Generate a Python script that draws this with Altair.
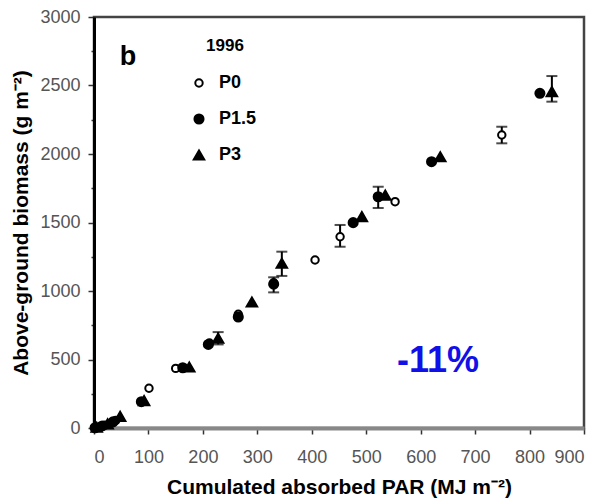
import altair as alt
import pandas as pd

series = ["P0", "P1.5", "P3"]

p0_x = [3, 20, 40, 101, 150, 212, 265, 330, 406, 452, 553, 749]
p0_y = [3, 20, 55, 290, 435, 620, 830, 1060, 1226, 1396, 1652, 2139]
p15_x = [2, 15, 35, 87, 163, 210, 265, 330, 476, 522, 620, 819]
p15_y = [2, 15, 45, 192, 440, 610, 810, 1050, 1499, 1688, 1944, 2443]
p3_x = [5, 25, 48, 92, 175, 228, 290, 345, 492, 535, 636, 841]
p3_y = [5, 30, 85, 200, 445, 655, 920, 1202, 1543, 1700, 1980, 2455]

err_series = ["P0", "P0", "P1.5", "P1.5", "P3", "P3", "P3"]
err_x = [452, 749, 330, 522, 228, 345, 841]
err_lo = [1323, 2078, 990, 1606, 610, 1110, 2382]
err_hi = [1482, 2199, 1100, 1761, 700, 1287, 2569]

x_ticks = [0, 100, 200, 300, 400, 500, 600, 700, 800, 900]
y_ticks = [0, 250, 500, 750, 1000, 1250, 1500, 1750, 2000, 2250, 2500, 2750, 3000]

x_title = "Cumulated absorbed PAR (MJ m⁻²)"
y_title = "Above-ground biomass (g m⁻²)"
panel_label = ["b"]
year_label = ["1996"]
change_label = ["-11%"]

rows = []
for name, xs, ys in [("P0", p0_x, p0_y), ("P1.5", p15_x, p15_y), ("P3", p3_x, p3_y)]:
    for xv, yv in zip(xs, ys):
        rows.append({"series": name, "x": xv, "y": yv})
df = pd.DataFrame(rows)
err_df = pd.DataFrame({"series": err_series, "x": err_x, "lo": err_lo, "hi": err_hi})

FONT = "Liberation Sans"

xscale = alt.Scale(domain=[0, 900], nice=False, zero=False)
yscale = alt.Scale(domain=[0, 3000], nice=False, zero=False)

x_axis = alt.Axis(values=x_ticks, format="d", grid=False)
y_axis = alt.Axis(
    values=y_ticks,
    format="d",
    grid=False,
    labelExpr="datum.value % 500 === 0 ? datum.label : ''",
    tickSize={"condition": {"test": "datum.value % 500 === 0", "value": 6}, "value": 3},
)

legend = alt.Legend(
    title=None,
    orient="none",
    legendX=96,
    legendY=57,
    padding=0,
    rowPadding=18,
    labelOffset=11,
    labelFont=FONT,
    labelFontSize=18,
    labelFontWeight="bold",
    labelColor="black",
    symbolStrokeWidth=2,
)

shape_scale = alt.Scale(domain=series, range=["circle", "circle", "triangle-up"])
fill_scale = alt.Scale(domain=series, range=["white", "black", "black"])
stroke_scale = alt.Scale(domain=series, range=["black", "black", "black"])
size_scale = alt.Scale(domain=series, range=[55, 110, 90])

rules = alt.Chart(err_df).mark_rule(color="black", strokeWidth=2).encode(
    x=alt.X("x:Q", scale=xscale, axis=x_axis, title=x_title),
    y=alt.Y("lo:Q", scale=yscale, axis=y_axis, title=y_title),
    y2="hi:Q",
)
caps_lo = alt.Chart(err_df).mark_tick(color="black", orient="horizontal", size=11, thickness=2).encode(
    x=alt.X("x:Q", scale=xscale, axis=x_axis, title=x_title),
    y=alt.Y("lo:Q", scale=yscale, axis=y_axis, title=y_title),
)
caps_hi = alt.Chart(err_df).mark_tick(color="black", orient="horizontal", size=11, thickness=2).encode(
    x=alt.X("x:Q", scale=xscale, axis=x_axis, title=x_title),
    y=alt.Y("hi:Q", scale=yscale, axis=y_axis, title=y_title),
)

points = alt.Chart(df).mark_point(filled=True, strokeWidth=2, opacity=1).encode(
    x=alt.X("x:Q", scale=xscale, axis=x_axis, title=x_title),
    y=alt.Y("y:Q", scale=yscale, axis=y_axis, title=y_title),
    shape=alt.Shape("series:N", scale=shape_scale, legend=legend),
    fill=alt.Fill("series:N", scale=fill_scale, legend=legend),
    stroke=alt.Stroke("series:N", scale=stroke_scale, legend=legend),
    size=alt.Size("series:N", scale=size_scale, legend=legend),
)

b_text = alt.Chart(pd.DataFrame({"t": panel_label})).mark_text(
    font=FONT, fontSize=27, fontWeight="bold", color="black", align="center", baseline="middle"
).encode(x=alt.value(34), y=alt.value(40), text="t:N")

year_text = alt.Chart(pd.DataFrame({"t": year_label})).mark_text(
    font=FONT, fontSize=17, fontWeight="bold", color="black", align="center", baseline="middle"
).encode(x=alt.value(131), y=alt.value(29), text="t:N")

pct_text = alt.Chart(pd.DataFrame({"t": change_label})).mark_text(
    font=FONT, fontSize=36, fontWeight="bold", color="#1010e8", align="center", baseline="middle"
).encode(x=alt.value(344), y=alt.value(344), text="t:N")

chart = (
    alt.layer(rules, caps_lo, caps_hi, points, b_text, year_text, pct_text)
    .properties(
        width=490,
        height=411,
        autosize=alt.AutoSizeParams(type="none"),
        padding={"left": 94, "top": 17, "right": 18, "bottom": 73},
        background="white",
    )
    .configure_view(stroke="#444", strokeWidth=2.5)
    .configure_axis(
        labelFont=FONT,
        labelFontSize=18,
        labelColor="#555",
        titleFont=FONT,
        titleFontSize=21,
        titleFontWeight="bold",
        titleColor="black",
        tickColor="#333",
        tickWidth=1.5,
    )
    .configure_axisX(domainColor="#888", domainWidth=4, tickSize=6, labelPadding=14, titlePadding=10)
    .configure_axisY(domainColor="black", domainWidth=3, labelPadding=8, titlePadding=8)
)

chart.save("out.html", embed_options={"renderer": "svg", "actions": False})
